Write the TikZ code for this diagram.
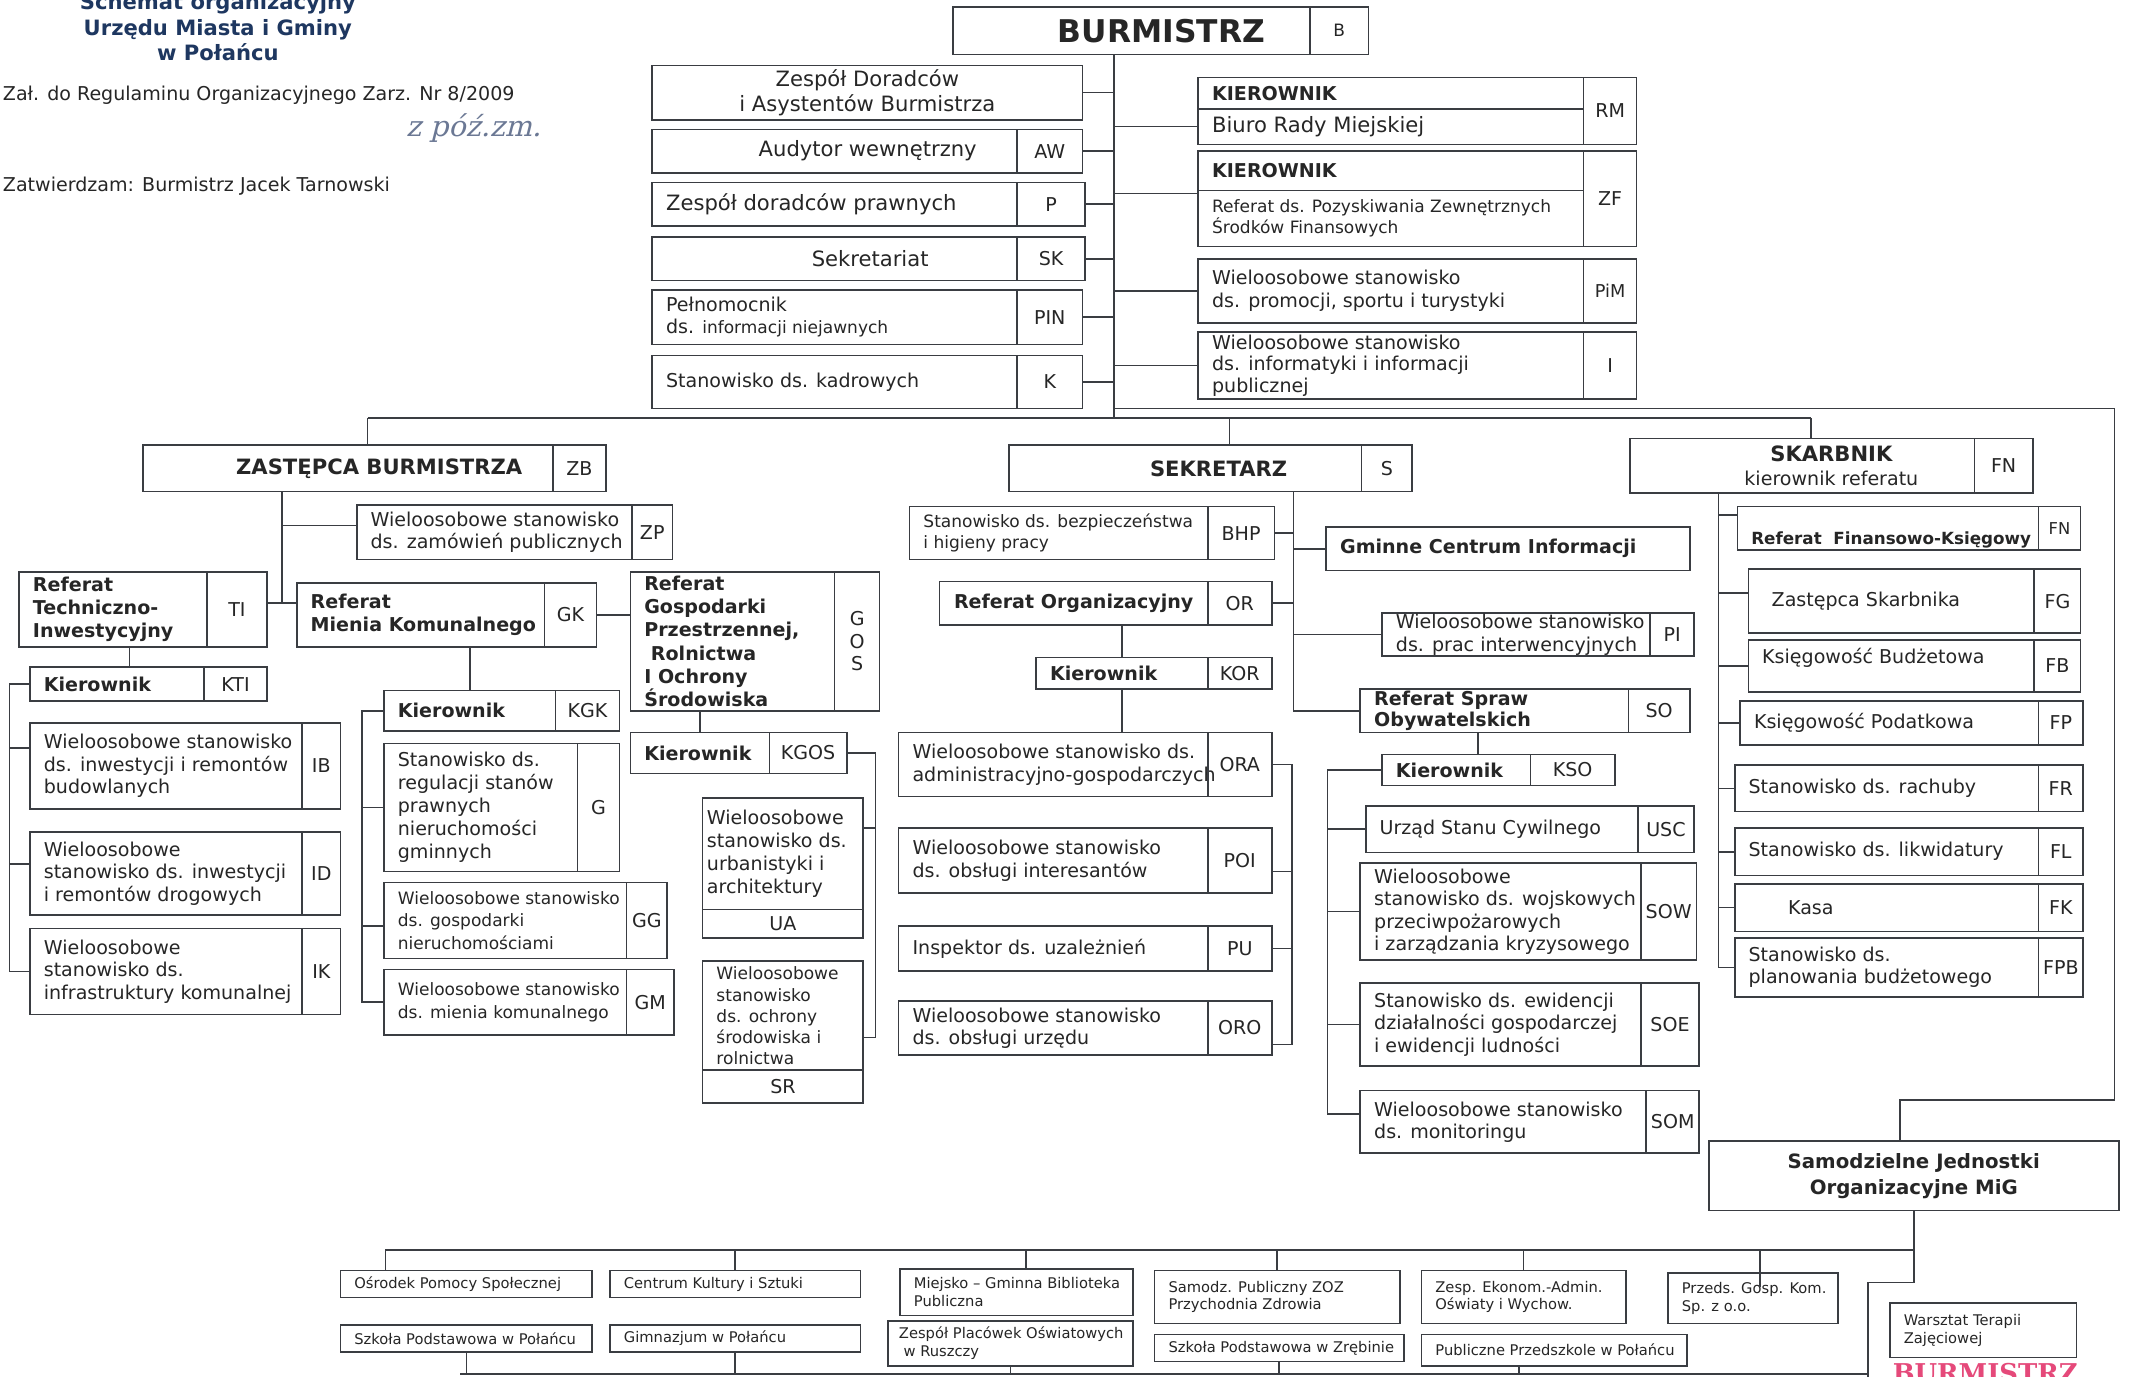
\documentclass[tikz,border=0pt]{standalone}
\usepackage{fontspec}
\setmainfont{DejaVu Sans}
\newfontfamily\handfont{DejaVu Serif}[FakeSlant=0.25]
\newfontfamily\stampfont{DejaVu Serif}
\usetikzlibrary{positioning,calc}

\definecolor{ink}{HTML}{262626}
\definecolor{edge}{HTML}{3A3D42}
\definecolor{navy}{HTML}{1E3760}
\definecolor{pen}{HTML}{6B7894}
\definecolor{stamp}{HTML}{E5497A}

\newcommand\ftA{\fontsize{15.5}{18}\selectfont}
\newcommand\ftB{\fontsize{14}{16.5}\selectfont}
\newcommand\ftC{\fontsize{12.5}{15.5}\selectfont}
\newcommand\ftD{\fontsize{10.8}{13}\selectfont}
\newcommand\ftH{\fontsize{15.5}{18.5}\selectfont\bfseries}
\newcommand\ftK{\fontsize{14}{17}\selectfont\bfseries}

\begin{document}
\begin{tikzpicture}[x=1pt, y=-1pt,
    unit/.style={draw=edge, line width=1.2pt, inner sep=0pt, outer sep=0pt,
      anchor=north west, align=center, text=ink, font=\ftB},
    lbl/.style={anchor=west, inner sep=0pt, align=left, text=ink, xshift=10pt, font=\ftB},
    link/.style={draw=edge, line width=1.2pt}]
\useasboundingbox[fill=white] (0,0) rectangle (1568,1011);

% naglowek
\node[font=\ftH, text=navy, align=center] (title) at (160,20) {Schemat organizacyjny\\Urzędu Miasta i Gminy\\w Połańcu};
\node[anchor=west, inner sep=0pt, font=\ftB, text=ink] (zal) at (2,70) {Zał. do Regulaminu Organizacyjnego Zarz. Nr 8/2009};
\node[anchor=west, inner sep=0pt, font=\fontsize{21}{24}\selectfont\handfont, text=pen] (zm) at (298,94) {z póź.zm.};
\node[anchor=west, inner sep=0pt, font=\ftB, text=ink] (zatw) at (2,137) {Zatwierdzam: Burmistrz Jacek Tarnowski};

% burmistrz
\node[unit, minimum width=262pt, minimum height=35pt, font=\fontsize{23}{26}\selectfont\bfseries] (bur) at (700,5) {\hspace*{44pt}BURMISTRZ};
\node[unit, minimum width=43pt, minimum height=35pt, font=\ftC] (bur-c) at (bur.north east) {B};
\coordinate (trunk) at (818,307);
\draw[link] (bur.south -| trunk) -- (trunk);

% stanowiska przy burmistrzu, lewa strona
\node[unit, minimum width=316pt, minimum height=40pt, font=\ftA] (zda) at (479,48) {Zespół Doradców\\i Asystentów Burmistrza};
\node[unit, minimum width=268pt, minimum height=32pt, label={[lbl, xshift=68pt, font=\ftA]west:Audytor wewnętrzny}] (aw) at (479,95) {};
\node[unit, minimum width=48pt, minimum height=32pt] (aw-c) at (aw.north east) {AW};
\node[unit, minimum width=268pt, minimum height=32pt, label={[lbl, font=\ftA]west:Zespół doradców prawnych}] (prw) at (479,134) {};
\node[unit, minimum width=50pt, minimum height=32pt] (prw-c) at (prw.north east) {P};
\node[unit, minimum width=268pt, minimum height=32pt, label={[lbl, xshift=107pt, font=\ftA]west:Sekretariat}] (sekr) at (479,174) {};
\node[unit, minimum width=50pt, minimum height=32pt] (sekr-c) at (sekr.north east) {SK};
\node[unit, minimum width=268pt, minimum height=40pt, label={[lbl]west:{Pełnomocnik\\ds. {\ftC informacji niejawnych}}}] (pin) at (479,213) {};
\node[unit, minimum width=48pt, minimum height=40pt] (pin-c) at (pin.north east) {PIN};
\node[unit, minimum width=268pt, minimum height=39pt, label={[lbl]west:Stanowisko ds. kadrowych}] (kad) at (479,261) {};
\node[unit, minimum width=48pt, minimum height=39pt] (kad-c) at (kad.north east) {K};
\draw[link] (zda.east) -- (zda.east -| trunk);
\draw[link] (aw-c.east) -- (aw-c.east -| trunk);
\draw[link] (prw-c.east) -- (prw-c.east -| trunk);
\draw[link] (sekr-c.east) -- (sekr-c.east -| trunk);
\draw[link] (pin-c.east) -- (pin-c.east -| trunk);
\draw[link] (kad-c.east) -- (kad-c.east -| trunk);

% stanowiska przy burmistrzu, prawa strona
\node[unit, minimum width=283pt, minimum height=23pt, label={[lbl, font=\ftK]west:KIEROWNIK}] (rm-h) at (880,57) {};
\node[unit, minimum width=283pt, minimum height=26pt, label={[lbl, font=\ftA]west:Biuro Rady Miejskiej}] (rm) at (rm-h.south west) {};
\node[unit, minimum width=39pt, minimum height=49pt] (rm-c) at (rm-h.north east) {RM};
\node[unit, minimum width=283pt, minimum height=29pt, label={[lbl, font=\ftK]west:KIEROWNIK}] (zf-h) at (880,111) {};
\node[unit, minimum width=283pt, minimum height=41pt, label={[lbl, font=\ftC]west:{Referat ds. Pozyskiwania Zewnętrznych\\Środków Finansowych}}] (zf) at (zf-h.south west) {};
\node[unit, minimum width=39pt, minimum height=70pt] (zf-c) at (zf-h.north east) {ZF};
\node[unit, minimum width=283pt, minimum height=47pt, label={[lbl]west:{Wieloosobowe stanowisko\\ds. promocji, sportu i turystyki}}] (pim) at (880,190) {};
\node[unit, minimum width=39pt, minimum height=47pt, font=\fontsize{13}{15}\selectfont] (pim-c) at (pim.north east) {PiM};
\node[unit, minimum width=283pt, minimum height=49pt, label={[lbl, font=\fontsize{14}{16}\selectfont]west:{Wieloosobowe stanowisko\\ds. informatyki i informacji\\publicznej}}] (inf) at (880,244) {};
\node[unit, minimum width=39pt, minimum height=49pt] (inf-c) at (inf.north east) {\raisebox{-5pt}{I}};
\draw[link] (rm.west -| trunk) -- (rm.west);
\draw[link] ([yshift=-2pt]zf-h.south west) -- ++(-62,0);
\draw[link] (pim.west -| trunk) -- (pim.west);
\draw[link] (inf.west -| trunk) -- (inf.west);

% magistrala
\coordinate (ra) at (818,300);
\coordinate (rb) at (1553,300);
\coordinate (rc) at (1553,808);
\coordinate (busl) at (270,307);
\coordinate (busr) at (1330,307);
\coordinate (sekd) at (903,307);
\draw[link] (busl) -- (busr);

% zastepca burmistrza
\node[unit, minimum width=301pt, minimum height=34pt, font=\ftH] (zb) at (105,327) {\hspace*{46pt}ZASTĘPCA BURMISTRZA};
\node[unit, minimum width=39pt, minimum height=34pt] (zb-c) at (zb.north east) {ZB};
\draw[link] (busl) -- (busl |- zb.north);
\coordinate (zbt) at (207,443);
\draw[link] (zbt |- zb.south) -- (zbt);
\node[unit, minimum width=202pt, minimum height=40pt, label={[lbl]west:{Wieloosobowe stanowisko\\ds. zamówień publicznych}}] (zp) at (262,371) {};
\node[unit, minimum width=30pt, minimum height=40pt] (zp-c) at (zp.north east) {ZP};
\draw[link] ([yshift=5pt]zp.west) -- ++(-55,0);
\node[unit, minimum width=138pt, minimum height=55pt, label={[lbl, font=\ftK]west:{Referat\\Techniczno-\\Inwestycyjny}}] (ti) at (14,420) {};
\node[unit, minimum width=44pt, minimum height=55pt] (ti-c) at (ti.north east) {TI};
\node[unit, minimum width=182pt, minimum height=47pt, label={[lbl, font=\ftK]west:{Referat\\Mienia Komunalnego}}] (gk) at (218,428) {};
\node[unit, minimum width=38pt, minimum height=47pt] (gk-c) at (gk.north east) {GK};
\node[unit, minimum width=150pt, minimum height=102pt, label={[lbl, font=\ftK]west:{Referat\\Gospodarki\\Przestrzennej,\\\ Rolnictwa\\I Ochrony\\Środowiska}}] (gos) at (463,420) {};
\node[unit, minimum width=33pt, minimum height=102pt] (gos-c) at (gos.north east) {G\\O\\S};
\draw[link] ([yshift=4.5pt]ti-c.east) -- ++(22,0);
\draw[link] (gk-c.east) -- (gk-c.east -| gos.west);

% referat techniczno-inwestycyjny
\node[unit, minimum width=128pt, minimum height=25pt, label={[lbl, font=\ftK]west:Kierownik}] (kti) at (22,490) {};
\node[unit, minimum width=46pt, minimum height=25pt] (kti-c) at (kti.north east) {KTI};
\draw[link] ([xshift=12pt]ti.south) -- ++(0,15);
\node[unit, minimum width=200pt, minimum height=63pt, label={[lbl]west:{Wieloosobowe stanowisko\\ds. inwestycji i remontów\\budowlanych}}] (ib) at (22,531) {};
\node[unit, minimum width=28pt, minimum height=63pt] (ib-c) at (ib.north east) {IB};
\node[unit, minimum width=200pt, minimum height=61pt, label={[lbl]west:{Wieloosobowe\\stanowisko ds. inwestycji\\i remontów drogowych}}] (id) at (22,611) {};
\node[unit, minimum width=28pt, minimum height=61pt] (id-c) at (id.north east) {ID};
\node[unit, minimum width=200pt, minimum height=63pt, label={[lbl]west:{Wieloosobowe\\stanowisko ds.\\infrastruktury komunalnej}}] (ik) at (22,682) {};
\node[unit, minimum width=28pt, minimum height=63pt] (ik-c) at (ik.north east) {IK};
\coordinate (tib) at (7,503);
\draw[link] (kti.west) -- (kti.west -| tib) |- (ik.west);
\draw[link] ([yshift=13pt]ib.west) -- ++(-15,0);
\draw[link] ([yshift=7pt]id.west) -- ++(-15,0);

% referat mienia komunalnego
\node[unit, minimum width=126pt, minimum height=30pt, label={[lbl, font=\ftK]west:Kierownik}] (kgk) at (282,507) {};
\node[unit, minimum width=47pt, minimum height=30pt] (kgk-c) at (kgk.north east) {KGK};
\draw[link] (kgk.north |- gk.south) -- (kgk.north);
\node[unit, minimum width=142pt, minimum height=94pt, label={[lbl, font=\fontsize{14}{17}\selectfont]west:{Stanowisko ds.\\regulacji stanów\\prawnych\\nieruchomości\\gminnych}}] (grn) at (282,546) {};
\node[unit, minimum width=31pt, minimum height=94pt] (grn-c) at (grn.north east) {G};
\node[unit, minimum width=178pt, minimum height=56pt, label={[lbl, font=\fontsize{12.5}{16.5}\selectfont]west:{Wieloosobowe stanowisko\\ds. gospodarki\\nieruchomościami}}] (gg) at (282,648) {};
\node[unit, minimum width=30pt, minimum height=56pt] (gg-c) at (gg.north east) {GG};
\node[unit, minimum width=178pt, minimum height=48pt, label={[lbl, font=\fontsize{12.5}{16.5}\selectfont]west:{Wieloosobowe stanowisko\\ds. mienia komunalnego}}] (gm) at (282,712) {};
\node[unit, minimum width=35pt, minimum height=48pt] (gm-c) at (gm.north east) {GM};
\coordinate (gkb) at (266,522);
\draw[link] (kgk.west) -- (kgk.west -| gkb) |- (gm.west);
\draw[link] (grn.west) -- (grn.west -| gkb);
\draw[link] ([yshift=-4pt]gg.west) -- ++(-16,0);

% referat gospodarki przestrzennej
\node[unit, minimum width=102pt, minimum height=30pt, label={[lbl, font=\ftK]west:Kierownik}] (kgos) at (463,538) {};
\node[unit, minimum width=57pt, minimum height=30pt] (kgos-c) at (kgos.north east) {KGOS};
\draw[link] (kgos.north |- gos.south) -- (kgos.north);
\node[unit, minimum width=118pt, minimum height=82pt, label={[lbl, xshift=-7pt, font=\fontsize{14}{17}\selectfont]west:{Wieloosobowe\\stanowisko ds.\\urbanistyki i\\architektury}}] (ua) at (516,586) {};
\node[unit, minimum width=118pt, minimum height=21pt] (ua-c) at (ua.south west) {UA};
\node[unit, minimum width=118pt, minimum height=80pt, label={[lbl, font=\fontsize{12.5}{15.5}\selectfont]west:{Wieloosobowe\\stanowisko\\ds. ochrony\\środowiska i\\rolnictwa}}] (sr) at (516,706) {};
\node[unit, minimum width=118pt, minimum height=24pt] (sr-c) at (sr.south west) {SR};
\coordinate (gosb) at (643,553);
\draw[link] (kgos-c.east) -- (kgos-c.east -| gosb) |- ([yshift=-16pt]sr.east);
\draw[link] ([yshift=19pt]ua.east) -- ++(9,0);

% sekretarz
\node[unit, minimum width=259pt, minimum height=34pt, font=\ftH] (sek) at (741,327) {\hspace*{49pt}SEKRETARZ};
\node[unit, minimum width=37pt, minimum height=34pt] (sek-c) at (sek.north east) {S};
\draw[link] (sekd) -- (sekd |- sek.north);
\coordinate (sekt) at (950,361);
\node[unit, minimum width=219pt, minimum height=39pt, label={[lbl, font=\ftC]west:{Stanowisko ds. bezpieczeństwa\\i higieny pracy}}] (bhp) at (668,372) {};
\node[unit, minimum width=49pt, minimum height=39pt] (bhp-c) at (bhp.north east) {BHP};
\node[unit, minimum width=267pt, minimum height=32pt, label={[lbl, font=\ftK]west:Gminne Centrum Informacji}] (gci) at (974,387) {};
\node[unit, minimum width=197pt, minimum height=32pt, font=\ftK] (org) at (690,427) {Referat Organizacyjny};
\node[unit, minimum width=47pt, minimum height=32pt] (org-c) at (org.north east) {OR};
\node[unit, minimum width=197pt, minimum height=32pt, label={[lbl]west:{Wieloosobowe stanowisko\\ds. prac interwencyjnych}}] (pi) at (1015,450) {};
\node[unit, minimum width=32pt, minimum height=32pt] (pi-c) at (pi.north east) {PI};
\node[unit, minimum width=197pt, minimum height=32pt, label={[lbl, font=\fontsize{14}{16}\selectfont\bfseries]west:{Referat Spraw\\Obywatelskich}}] (so) at (999,506) {};
\node[unit, minimum width=45pt, minimum height=32pt] (so-c) at (so.north east) {SO};
\draw[link] (sekt) |- (so.west);
\draw[link] (bhp-c.east) -- (bhp-c.east -| sekt);
\draw[link] (gci.west) -- (gci.west -| sekt);
\draw[link] (org-c.east) -- (org-c.east -| sekt);
\draw[link] (pi.west) -- (pi.west -| sekt);

% referat organizacyjny
\node[unit, minimum width=126pt, minimum height=23pt, label={[lbl, font=\ftK]west:Kierownik}] (kor) at (761,483) {};
\node[unit, minimum width=47pt, minimum height=23pt] (kor-c) at (kor.north east) {KOR};
\draw[link] (kor.north |- org.south) -- (kor.north);
\node[unit, minimum width=227pt, minimum height=47pt, label={[lbl]west:{Wieloosobowe stanowisko ds.\\administracyjno-gospodarczych}}] (ora) at (660,538) {};
\node[unit, minimum width=47pt, minimum height=47pt] (ora-c) at (ora.north east) {ORA};
\draw[link] (kor.south) -- (kor.south |- ora.north);
\node[unit, minimum width=227pt, minimum height=48pt, label={[lbl]west:{Wieloosobowe stanowisko\\ds. obsługi interesantów}}] (poi) at (660,608) {};
\node[unit, minimum width=47pt, minimum height=48pt] (poi-c) at (poi.north east) {POI};
\node[unit, minimum width=227pt, minimum height=33pt, label={[lbl]west:Inspektor ds. uzależnień}] (pu) at (660,680) {};
\node[unit, minimum width=47pt, minimum height=33pt] (pu-c) at (pu.north east) {PU};
\node[unit, minimum width=227pt, minimum height=40pt, label={[lbl]west:{Wieloosobowe stanowisko\\ds. obsługi urzędu}}] (oro) at (660,735) {};
\node[unit, minimum width=47pt, minimum height=40pt] (oro-c) at (oro.north east) {ORO};
\coordinate (orb) at (949,561);
\draw[link] (ora-c.east) -- (ora-c.east -| orb) |- ([yshift=-12pt]oro-c.east);
\draw[link] ([yshift=-8pt]poi-c.east) -- ++(15,0);
\draw[link] (pu-c.east) -- (pu-c.east -| orb);

% referat spraw obywatelskich
\node[unit, minimum width=109pt, minimum height=23pt, label={[lbl, font=\ftK]west:Kierownik}] (kso) at (1015,554) {};
\node[unit, minimum width=62pt, minimum height=23pt] (kso-c) at (kso.north east) {KSO};
\draw[link] ([xshift=16pt]kso.north) -- ++(0,-16);
\node[unit, minimum width=200pt, minimum height=34pt, label={[lbl]west:Urząd Stanu Cywilnego}] (usc) at (1003,592) {};
\node[unit, minimum width=41pt, minimum height=34pt] (usc-c) at (usc.north east) {USC};
\node[unit, minimum width=206pt, minimum height=71pt, label={[lbl]west:{Wieloosobowe\\stanowisko ds. wojskowych\\przeciwpożarowych\\i zarządzania kryzysowego}}] (sow) at (999,634) {};
\node[unit, minimum width=41pt, minimum height=71pt] (sow-c) at (sow.north east) {SOW};
\node[unit, minimum width=206pt, minimum height=61pt, label={[lbl]west:{Stanowisko ds. ewidencji\\działalności gospodarczej\\i ewidencji ludności}}] (soe) at (999,722) {};
\node[unit, minimum width=43pt, minimum height=61pt] (soe-c) at (soe.north east) {SOE};
\node[unit, minimum width=210pt, minimum height=46pt, label={[lbl]west:{Wieloosobowe stanowisko\\ds. monitoringu}}] (som) at (999,801) {};
\node[unit, minimum width=39pt, minimum height=46pt] (som-c) at (som.north east) {SOM};
\coordinate (sob) at (975,565);
\draw[link] (kso.west) -- (kso.west -| sob) |- ([yshift=6pt]som.west);
\draw[link] (usc.west) -- (usc.west -| sob);
\draw[link] (sow.west) -- (sow.west -| sob);
\draw[link] (soe.west) -- (soe.west -| sob);

% skarbnik
\node[unit, minimum width=253pt, minimum height=40pt, font=\fontsize{14}{18}\selectfont] (skarb) at (1197,322) {\hspace*{43pt}{\ftH SKARBNIK}\\\hspace*{43pt}kierownik referatu};
\node[unit, minimum width=43pt, minimum height=40pt] (skarb-c) at (skarb.north east) {FN};
\draw[link] (busr) -- (busr |- skarb.north);
\coordinate (skt) at (1262,362);
\node[unit, minimum width=221pt, minimum height=32pt, label={[lbl, anchor=south west, yshift=1pt, font=\fontsize{12.3}{15}\selectfont\bfseries]south west:{Referat~~Finansowo-Księgowy}}] (rfk) at (1276,372) {};
\node[unit, minimum width=31pt, minimum height=32pt, font=\fontsize{12}{14}\selectfont] (rfk-c) at (rfk.north east) {\raisebox{-7pt}{FN}};
\node[unit, minimum width=210pt, minimum height=47pt, label={[lbl, xshift=7pt]west:Zastępca Skarbnika}] (fg) at (1284,418) {};
\node[unit, minimum width=34pt, minimum height=47pt] (fg-c) at (fg.north east) {FG};
\node[unit, minimum width=210pt, minimum height=38pt, label={[lbl, yshift=6pt]west:Księgowość Budżetowa}] (fb) at (1284,470) {};
\node[unit, minimum width=34pt, minimum height=38pt] (fb-c) at (fb.north east) {FB};
\node[unit, minimum width=219pt, minimum height=32pt, label={[lbl]west:Księgowość Podatkowa}] (fp) at (1278,515) {};
\node[unit, minimum width=33pt, minimum height=32pt] (fp-c) at (fp.north east) {FP};
\node[unit, minimum width=223pt, minimum height=34pt, label={[lbl]west:Stanowisko ds. rachuby}] (fr) at (1274,562) {};
\node[unit, minimum width=33pt, minimum height=34pt] (fr-c) at (fr.north east) {FR};
\node[unit, minimum width=223pt, minimum height=35pt, label={[lbl]west:Stanowisko ds. likwidatury}] (fl) at (1274,608) {};
\node[unit, minimum width=33pt, minimum height=35pt] (fl-c) at (fl.north east) {FL};
\node[unit, minimum width=223pt, minimum height=35pt, label={[lbl, xshift=29pt]west:Kasa}] (fk) at (1274,649) {};
\node[unit, minimum width=33pt, minimum height=35pt] (fk-c) at (fk.north east) {FK};
\node[unit, minimum width=223pt, minimum height=43pt, label={[lbl]west:{Stanowisko ds.\\planowania budżetowego}}] (fpb) at (1274,689) {};
\node[unit, minimum width=33pt, minimum height=43pt] (fpb-c) at (fpb.north east) {FPB};
\draw[link] (skt) |- (fpb.west);
\draw[link] ([yshift=10pt]rfk.west) -- ++(-14,0);
\draw[link] ([yshift=6pt]fg.west) -- ++(-22,0);
\draw[link] (fb.west) -- (fb.west -| skt);
\draw[link] (fp.west) -- (fp.west -| skt);
\draw[link] (fr.west) -- (fr.west -| skt);
\draw[link] (fl.west) -- (fl.west -| skt);
\draw[link] (fk.west) -- (fk.west -| skt);

% jednostki samodzielne
\node[unit, minimum width=301pt, minimum height=51pt, font=\fontsize{14.5}{19}\selectfont\bfseries] (sj) at (1255,838) {Samodzielne Jednostki\\Organizacyjne MiG};
\draw[link] (ra) -- (rb) -- (rc) -| ([xshift=-10pt]sj.north);
\coordinate (lb) at (283,918);
\coordinate (wk) at (1372,942);
\coordinate (wend) at (1372,1012);
\coordinate (bb) at (338,1009);
\draw[link] (sj.south) |- (wk) -- (wend);
\draw[link] (lb) -- (lb -| sj.south);

\node[unit, minimum width=185pt, minimum height=20pt, label={[lbl, font=\ftD]west:Ośrodek Pomocy Społecznej}] (ops) at (250,933) {};
\node[unit, minimum width=184pt, minimum height=20pt, label={[lbl, font=\ftD]west:Centrum Kultury i Sztuki}] (cks) at (448,933) {};
\node[unit, minimum width=171pt, minimum height=34pt, label={[lbl, font=\ftD]west:{Miejsko – Gminna Biblioteka\\Publiczna}}] (mgb) at (661,932) {};
\node[unit, minimum width=180pt, minimum height=39pt, label={[lbl, font=\ftD]west:{Samodz. Publiczny ZOZ\\Przychodnia Zdrowia}}] (zoz) at (848,933) {};
\node[unit, minimum width=150pt, minimum height=39pt, label={[lbl, font=\ftD]west:{Zesp. Ekonom.-Admin.\\Oświaty i Wychow.}}] (zeao) at (1044,933) {};
\node[unit, minimum width=125pt, minimum height=37pt, label={[lbl, font=\ftD]west:{Przeds. Gosp. Kom.\\Sp. z o.o.}}] (pgk) at (1225,935) {};
\node[unit, minimum width=185pt, minimum height=20pt, label={[lbl, font=\ftD]west:Szkoła Podstawowa w Połańcu}] (spp) at (250,973) {};
\node[unit, minimum width=184pt, minimum height=20pt, label={[lbl, font=\ftD]west:Gimnazjum w Połańcu}] (gim) at (448,973) {};
\node[unit, minimum width=180pt, minimum height=33pt, label={[lbl, xshift=-2pt, font=\ftD]west:{Zespół Placówek Oświatowych\\\ w Ruszczy}}] (zpo) at (652,970) {};
\node[unit, minimum width=183pt, minimum height=20pt, label={[lbl, font=\ftD]west:Szkoła Podstawowa w Zrębinie}] (spz) at (848,980) {};
\node[unit, minimum width=195pt, minimum height=23pt, label={[lbl, font=\ftD]west:Publiczne Przedszkole w Połańcu}] (ppp) at (1044,980) {};
\node[unit, minimum width=137pt, minimum height=40pt, label={[lbl, font=\ftD]west:{Warsztat Terapii\\Zajęciowej}}] (wtz) at (1388,957) {};

\draw[link] (lb) -- (lb |- ops.north);
\draw[link] (cks.north |- lb) -- (cks.north);
\draw[link] ([xshift=7pt]mgb.north) -- ++(0,-14);
\draw[link] (zoz.north |- lb) -- (zoz.north);
\draw[link] (zeao.north |- lb) -- (zeao.north);
\draw[link] ([xshift=5pt,yshift=-10pt]pgk.north) -- ++(0,-27);
\draw[link] (bb) -- (bb -| wend);
\draw[link] (spp.south) -- (spp.south |- bb);
\draw[link] (gim.south) -- (gim.south |- bb);
\draw[link] (zpo.south) -- (zpo.south |- bb);
\draw[link] (spz.south) -- (spz.south |- bb);
\draw[link] ([xshift=-26pt]ppp.south) -- ++(0,6);

% pieczatka
\node[anchor=north, inner sep=0pt, text=stamp, font=\fontsize{19}{20}\selectfont\stampfont\bfseries] (stmp) at (1458,1001) {BURMISTRZ};
\end{tikzpicture}
\end{document}
